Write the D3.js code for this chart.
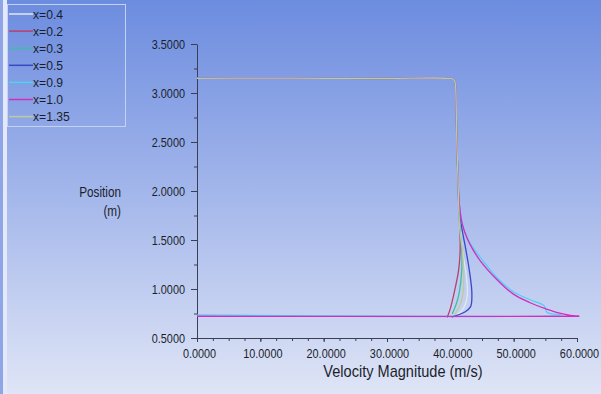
<!DOCTYPE html>
<html>
<head>
<meta charset="utf-8">
<script src="https://cdn.jsdelivr.net/npm/d3@7"></script>
<style>
    body { margin: 0; padding: 0; overflow: hidden; }
    svg { display: block; font-family: "Liberation Sans", Arial, sans-serif; }
</style>
</head>
<body>
<div id="chart"></div>
<script>
// series labels + colours (legend order)
var seriesNames = ['x=0.4', 'x=0.2', 'x=0.3', 'x=0.5', 'x=0.9', 'x=1.0', 'x=1.35'];
var seriesColors = ['#e4e8ee', '#b8406e', '#3cc0a4', '#3a48c8', '#4fd2f2', '#d42cc0', '#bdcb9a'];

// shared part of every profile: top plateau + the vertical drop
var topVel = [0, 10, 20, 30, 39.6, 40.4, 40.75, 40.85, 40.95, 41.05];
var topPos = [3.15, 3.152, 3.15, 3.148, 3.15, 3.14, 3.11, 3.05, 2.75, 2.45];

// lower part of each profile
var vel04 = [41.2, 41.35, 41.6, 42.0, 42.5, 42.7, 42.4, 41.7, 41.0];
var pos04 = [2.15, 1.9, 1.6, 1.35, 1.15, 0.96, 0.85, 0.77, 0.735];
var vel02 = [41.2, 41.3, 41.5, 41.55, 41.3, 40.6, 40.0, 39.5];
var pos02 = [2.15, 1.9, 1.6, 1.4, 1.19, 0.96, 0.80, 0.71];
var vel03 = [41.2, 41.3, 41.55, 41.8, 41.8, 41.4, 41.0, 40.3];
var pos03 = [2.15, 1.9, 1.6, 1.4, 1.19, 0.96, 0.86, 0.745];
var vel05 = [41.2, 41.35, 41.8, 42.4, 43.0, 43.4, 43.2, 42.3, 40.2];
var pos05 = [2.15, 1.9, 1.63, 1.42, 1.19, 0.96, 0.82, 0.765, 0.714];
var vel09 = [41.2, 41.45, 41.9, 42.7, 43.6, 44.9, 47.3, 49.9, 52.6, 54.8, 55.3, 57.5, 0];
var pos09 = [2.15, 1.85, 1.66, 1.52, 1.42, 1.31, 1.12, 0.975, 0.89, 0.83, 0.76, 0.735, 0.735];
var vel10 = [41.2, 41.45, 41.9, 42.7, 43.5, 44.7, 47.3, 49.9, 52.6, 55.2, 57.8, 59.7, 60.3, 0];
var pos10 = [2.15, 1.85, 1.66, 1.51, 1.41, 1.29, 1.10, 0.95, 0.86, 0.795, 0.745, 0.724, 0.722, 0.722];
var vel135 = [41.2, 41.3, 41.5, 41.9, 42.1, 42.0, 41.6, 40.7];
var pos135 = [2.15, 1.9, 1.6, 1.4, 1.19, 0.96, 0.85, 0.74];

var xTicks = [0, 10, 20, 30, 40, 50, 60];
var yTicks = [0.5, 1.0, 1.5, 2.0, 2.5, 3.0, 3.5];

var lowerVel = [vel04, vel02, vel03, vel05, vel09, vel10, vel135];
var lowerPos = [pos04, pos02, pos03, pos05, pos09, pos10, pos135];

var width = 601, height = 394;
var ink = '#1a1e2c';

var svg = d3.select('#chart').append('svg')
    .attr('width', width)
    .attr('height', height);

var grad = svg.append('defs').append('linearGradient')
    .attr('id', 'bg')
    .attr('x1', 0).attr('y1', 0).attr('x2', 0).attr('y2', 1);
grad.append('stop').attr('offset', '0%').attr('stop-color', '#6c8cdf');
grad.append('stop').attr('offset', '45%').attr('stop-color', '#9fb3ea');
grad.append('stop').attr('offset', '100%').attr('stop-color', '#dfe5f6');

svg.append('rect').attr('width', width).attr('height', height).attr('fill', 'url(#bg)');
// left edge strip
svg.append('rect').attr('x', 0).attr('y', 0).attr('width', 3).attr('height', height).attr('fill', '#8fa6e6');
svg.append('rect').attr('x', 3).attr('y', 0).attr('width', 4).attr('height', height).attr('fill', '#e3e9f8');

var x = d3.scaleLinear().domain([0, 60]).range([197, 577]);
var y = d3.scaleLinear().domain([0.5, 3.5]).range([338, 44]);

var fmt = d3.format('.4f');

// narrow text: squeeze horizontally around its own anchor point
function narrowText(sel, px, py, size, sx) {
    sel.attr('transform', 'translate(' + px + ',' + py + ') scale(' + sx + ',1)')
        .attr('x', 0).attr('y', 0)
        .style('font-size', size + 'px');
}

// minor ticks first
svg.append('g')
    .attr('transform', 'translate(0,' + y(0.5) + ')')
    .call(d3.axisBottom(x).tickValues(d3.range(0, 60.01, 2.5)).tickSize(3).tickFormat(''))
    .call(function (g) { g.select('.domain').remove(); });
svg.append('g')
    .attr('transform', 'translate(' + x(0) + ',0)')
    .call(d3.axisLeft(y).tickValues(d3.range(0.5, 3.51, 0.25)).tickSize(3).tickFormat(''))
    .call(function (g) { g.select('.domain').remove(); });

var xAxis = svg.append('g')
    .attr('transform', 'translate(0,' + y(0.5) + ')')
    .call(d3.axisBottom(x).tickValues(xTicks).tickSize(4).tickSizeOuter(0).tickFormat(fmt));
var yAxis = svg.append('g')
    .attr('transform', 'translate(' + x(0) + ',0)')
    .call(d3.axisLeft(y).tickValues(yTicks).tickSize(6).tickSizeOuter(0).tickFormat(fmt));

svg.selectAll('.tick line, .domain').attr('stroke', '#3a3f55');
svg.selectAll('.tick text').attr('fill', ink).style('font-family', null);
xAxis.selectAll('.tick text').each(function () {
    d3.select(this).attr('dy', null);
    narrowText(d3.select(this), 2, 20, 12.5, 0.87);
});
yAxis.selectAll('.tick text').each(function () {
    d3.select(this).attr('dy', null);
    narrowText(d3.select(this), -12, 4.5, 12.5, 0.87);
});

narrowText(svg.append('text')
    .attr('text-anchor', 'middle')
    .attr('fill', ink)
    .text('Velocity Magnitude (m/s)'), 403, 377, 16, 0.91);

narrowText(svg.append('text')
    .attr('text-anchor', 'end')
    .attr('fill', ink)
    .text('Position'), 121, 197, 14, 0.84);
narrowText(svg.append('text')
    .attr('text-anchor', 'end')
    .attr('fill', ink)
    .text('(m)'), 121, 216, 14, 0.84);

// build each profile from the shared top part and its own lower part
var profiles = seriesNames.map(function (name, i) {
    var pts = [];
    topVel.forEach(function (v, j) { pts.push([v, topPos[j]]); });
    lowerVel[i].forEach(function (v, j) { pts.push([v, lowerPos[i][j]]); });
    return { name: name, color: seriesColors[i], points: pts };
});

var line = d3.line()
    .x(function (d) { return x(d[0]); })
    .y(function (d) { return y(d[1]); })
    .curve(d3.curveCatmullRom.alpha(0.5));

svg.append('g')
    .selectAll('path')
    .data(profiles)
    .enter()
    .append('path')
    .attr('d', function (d) { return line(d.points); })
    .attr('fill', 'none')
    .attr('stroke', function (d) { return d.color; })
    .attr('stroke-width', 1.3)
    .attr('stroke-linejoin', 'round');

// legend
var legend = svg.append('g');
legend.append('rect')
    .attr('x', 7.5).attr('y', 4.5)
    .attr('width', 118).attr('height', 122)
    .attr('fill', 'none')
    .attr('stroke', '#c4d2f2')
    .attr('stroke-width', 1);

var items = legend.selectAll('.item')
    .data(profiles)
    .enter()
    .append('g')
    .attr('class', 'item')
    .attr('transform', function (d, i) { return 'translate(0,' + (14 + i * 17.1) + ')'; });
items.append('line')
    .attr('x1', 9).attr('x2', 33)
    .attr('stroke', function (d) { return d.color; })
    .attr('stroke-width', 1.5);
items.append('text')
    .attr('x', 33).attr('dy', '0.36em')
    .attr('fill', ink)
    .style('font-size', '13.5px')
    .attr('transform', 'translate(33,0) scale(0.9,1) translate(-33,0)')
    .text(function (d) { return d.name; });
</script>
</body>
</html>
